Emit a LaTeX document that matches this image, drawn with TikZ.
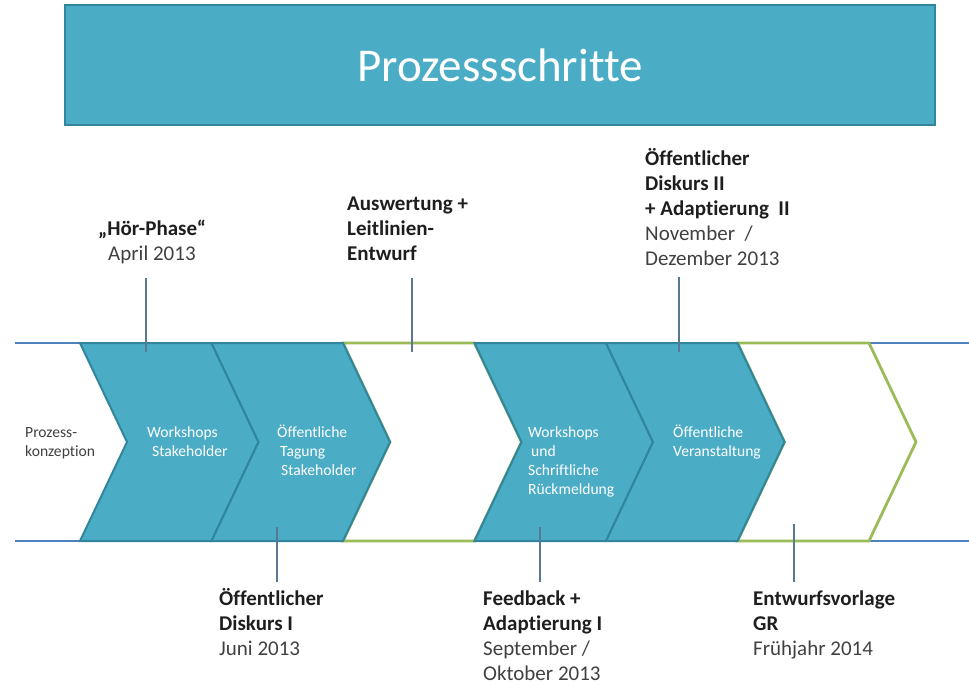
\documentclass[tikz,border=0pt]{standalone}
\usepackage{fontspec}
\setmainfont{Carlito}[Ligatures=NoCommon]
\usetikzlibrary{positioning,calc}
\definecolor{stepfill}{HTML}{4BACC6}
\definecolor{stepline}{HTML}{31859C}
\definecolor{bandblue}{HTML}{4F81BD}
\definecolor{bandgreen}{HTML}{9BBB59}
\definecolor{stemcol}{HTML}{5A7892}
\definecolor{datecol}{HTML}{404040}
\definecolor{headcol}{HTML}{1E1E1E}
\newcommand{\chevron}[1]{(#1,343) -- ++(131.5,0) -- ++(47,99) -- ++(-47,99) -- ++(-131.5,0) -- ++(47,-99) -- cycle}

\begin{document}
\begin{tikzpicture}
[x=1pt,y=-1pt,
titlebox/.style={fill=stepfill,draw=stepline,line width=1.8pt,minimum width=870pt,minimum height=120pt,text=white,font=\fontsize{47}{56}\selectfont},
stepblock/.style={fill=stepfill,draw=stepline,line width=2pt},
openblock/.style={fill=white,draw=bandgreen,line width=2.8pt},
band/.style={draw=bandblue,line width=2.8pt},
stemline/.style={draw=stemcol,line width=1.1pt},
inlabel/.style={white,anchor=base west,align=left,inner sep=0pt,font=\fontsize{15.6}{19}\selectfont},
milestone/.style={headcol,anchor=base west,align=left,inner sep=0pt,font=\fontsize{21}{25}\selectfont}]
\useasboundingbox (0,0) rectangle (969,685);

% title
\node[titlebox] (title) at (500,65) {Prozessschritte};

% band lines
\coordinate (band nw) at (15,343);
\coordinate (band ne) at (969,343);
\coordinate (band sw) at (15,541);
\coordinate (band se) at (969,541);
\draw[band] (band nw) -- (band ne);
\draw[band] (band sw) -- (band se);

% open steps
\draw[openblock] \chevron{343};
\draw[openblock] \chevron{737.5};
% filled steps
\foreach \x in {80,211.5,474.5,606}
  \draw[stepblock] \chevron{\x};

% texts in the steps (anchored at the last line)
\node[inlabel,text=datecol] (konzeption) at (25,456) {Prozess-\\konzeption};
\node[inlabel] (ws stake) at (147,456) {Workshops\\\hspace*{5pt}Stakeholder};
\node[inlabel] (tagung) at (277,475) {Öffentliche\\\hspace*{3pt}Tagung\\\hspace*{4pt}Stakeholder};
\node[inlabel] (rueckmeldung) at (528,494) {Workshops\\\hspace*{3pt}und\\Schriftliche\\Rückmeldung};
\node[inlabel] (veranstaltung) at (673,456) {Öffentliche\\Veranstaltung};

% milestones above
\node[milestone] (hoerphase) at (98,260) {\textbf{„Hör-Phase“}\\\hspace*{10pt}\textcolor{datecol}{April 2013}};
\node[milestone] (auswertung) at (347,260) {\textbf{Auswertung +}\\\textbf{Leitlinien-}\\\textbf{Entwurf}};
\node[milestone] (diskurs2) at (645,265) {\textbf{Öffentlicher}\\\textbf{Diskurs II}\\\textbf{+ Adaptierung\ \ II}\\\textcolor{datecol}{November\ \ /}\\\textcolor{datecol}{Dezember 2013}};
% milestones below
\node[milestone] (diskurs1) at (219,655) {\textbf{Öffentlicher}\\\textbf{Diskurs I}\\\textcolor{datecol}{Juni 2013}};
\node[milestone] (feedback) at (483,680) {\textbf{Feedback +}\\\textbf{Adaptierung I}\\\textcolor{datecol}{September /}\\\textcolor{datecol}{Oktober 2013}};
\node[milestone] (vorlage) at (753,655) {\textbf{Entwurfsvorlage}\\\textbf{GR}\\\textcolor{datecol}{Frühjahr 2014}};

% stems
\coordinate (hp top) at (146,278);   \coordinate (hp foot) at (146,352);
\coordinate (aw top) at (412,278);   \coordinate (aw foot) at (412,352);
\coordinate (d2 top) at (679,277);   \coordinate (d2 foot) at (679,352);
\coordinate (d1 top) at (277,527);   \coordinate (d1 foot) at (277,582);
\coordinate (fb top) at (540,527);   \coordinate (fb foot) at (540,582);
\coordinate (ev top) at (794,524);   \coordinate (ev foot) at (794,582);
\draw[stemline] (hp top) -- (hp foot);
\draw[stemline] (aw top) -- (aw foot);
\draw[stemline] (d2 top) -- (d2 foot);
\draw[stemline] (d1 top) -- (d1 foot);
\draw[stemline] (fb top) -- (fb foot);
\draw[stemline] (ev top) -- (ev foot);
\end{tikzpicture}
\end{document}
